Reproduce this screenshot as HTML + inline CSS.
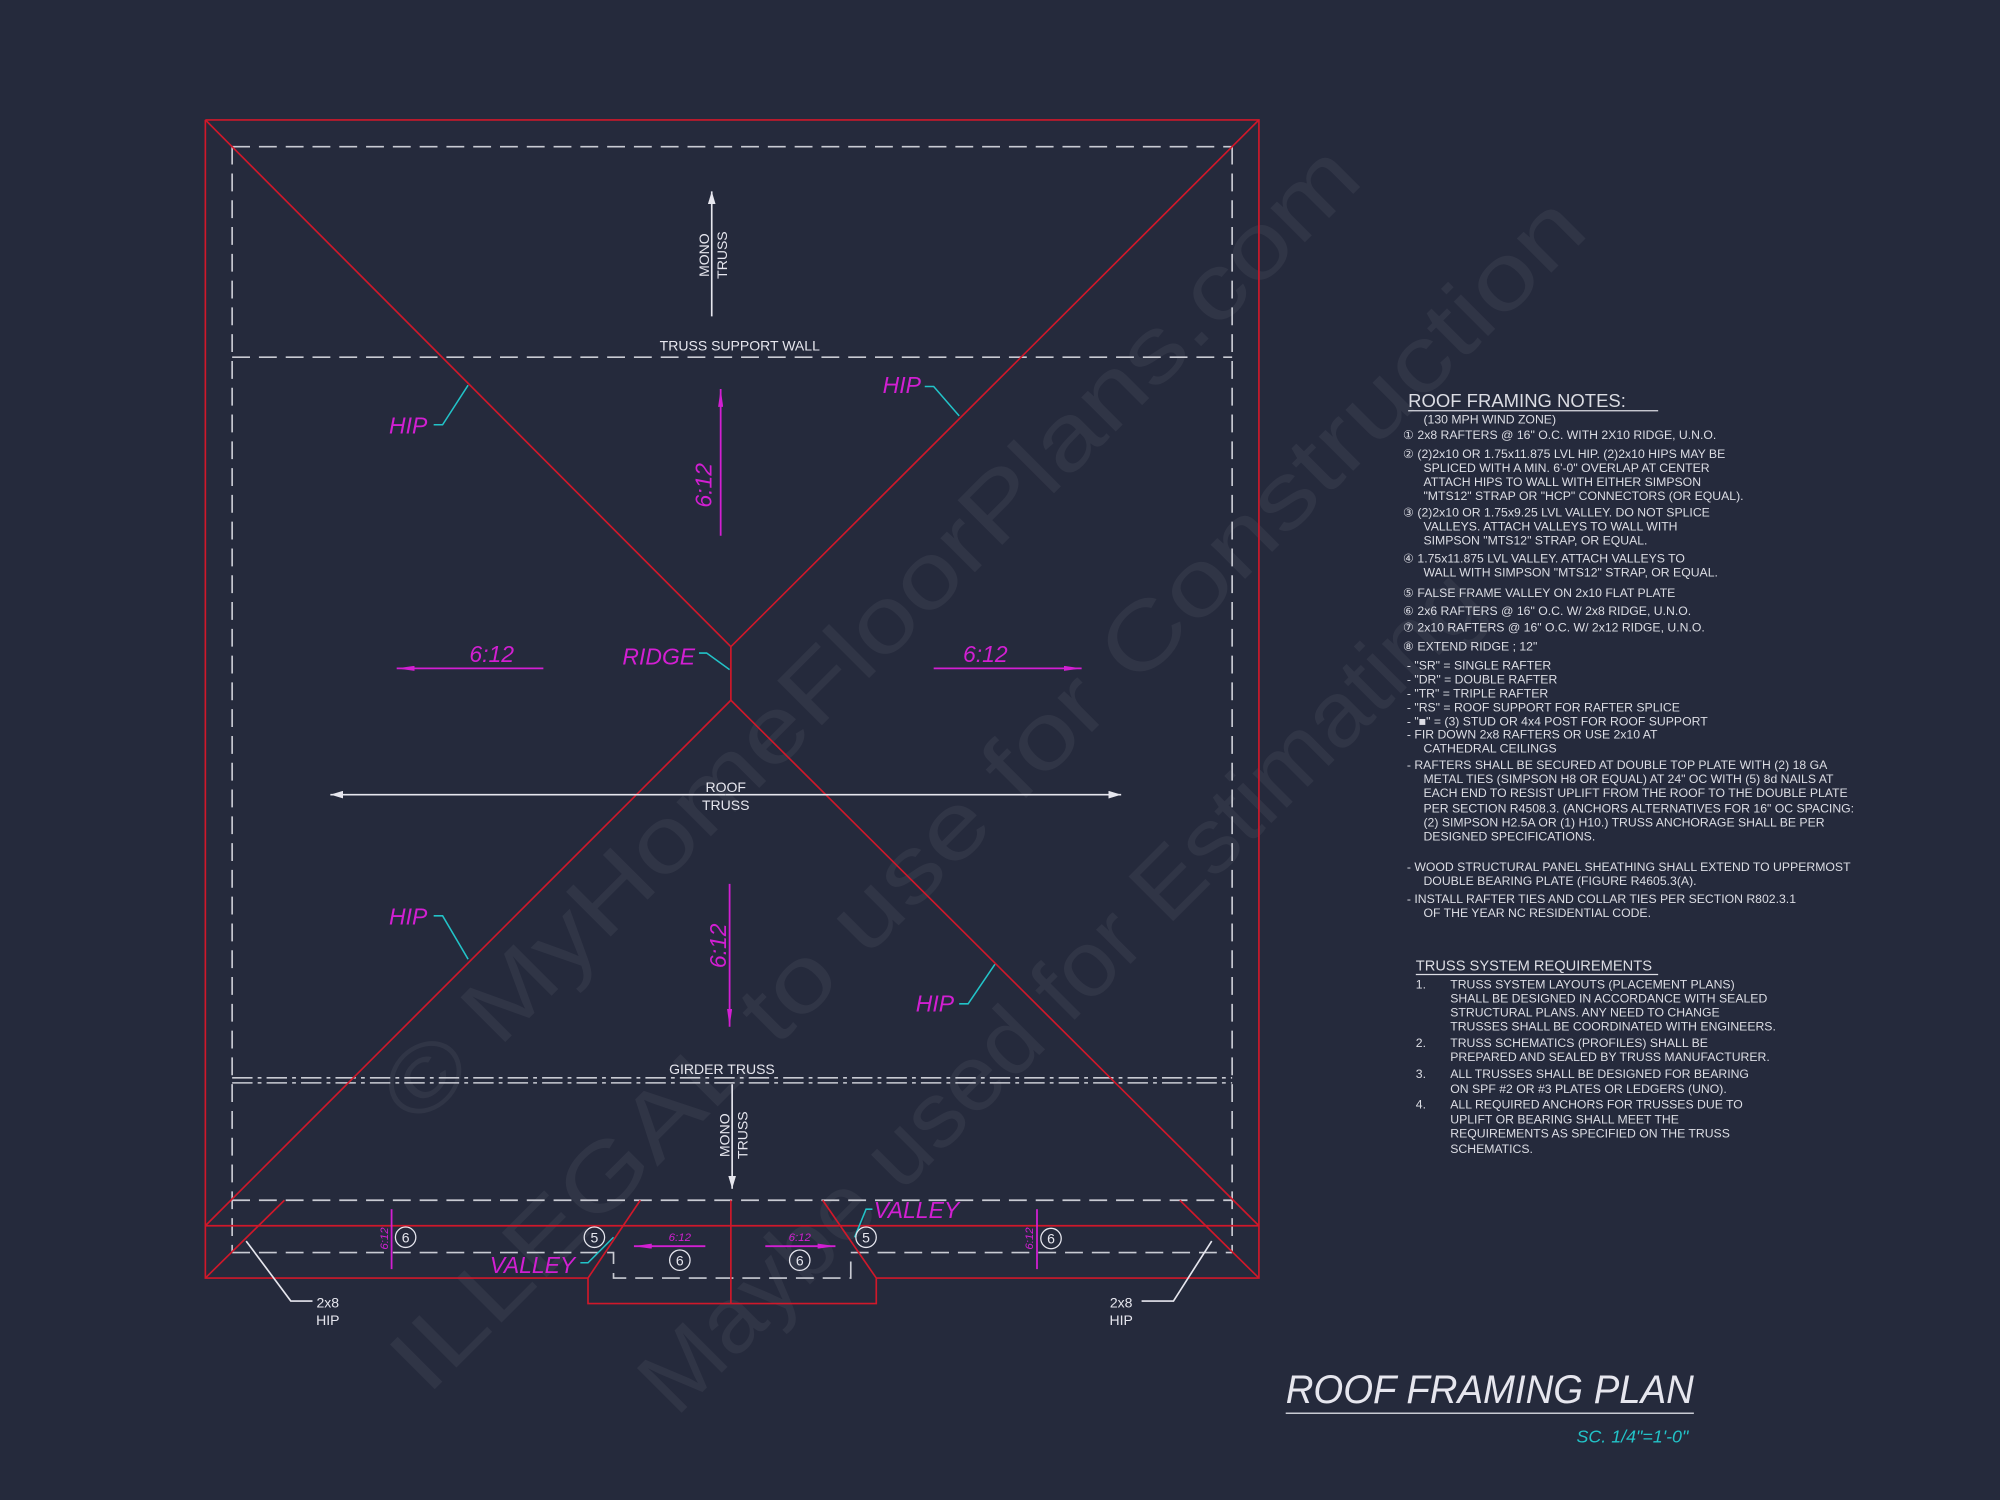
<!DOCTYPE html>
<html><head><meta charset="utf-8"><style>
html,body{margin:0;padding:0;background:#252a3c;}
svg{display:block}
text{font-family:"Liberation Sans",sans-serif;}
</style></head><body>
<svg width="2000" height="1500" viewBox="0 0 1568 1176" xmlns="http://www.w3.org/2000/svg">
<rect width="1568" height="1176" fill="#252a3c"/>
<defs>
<marker id="aw" viewBox="0 0 10 6" refX="10" refY="3" markerWidth="10" markerHeight="6" orient="auto" markerUnits="userSpaceOnUse"><path d="M0,0 L10,3 L0,6 z" fill="#e6e6ee"/></marker>
<marker id="am" viewBox="0 0 14 4" refX="14" refY="2" markerWidth="14" markerHeight="4" orient="auto" markerUnits="userSpaceOnUse"><path d="M0,0 L14,2 L0,4 z" fill="#d21fd2"/></marker>
</defs>
<!-- watermark -->
<g fill="#ffffff" fill-opacity="0.055" font-family="Liberation Serif, serif" font-size="72">
<text transform="translate(328,885) rotate(-45)" textLength="1050" lengthAdjust="spacingAndGlyphs">© MyHomeFloorPlans.com</text>
<text transform="translate(335,1095) rotate(-45)" textLength="1290" lengthAdjust="spacingAndGlyphs">ILLEGAL to use for Construction</text>
<text transform="translate(530,1112) rotate(-45)" textLength="900" lengthAdjust="spacingAndGlyphs">Maybe used for Estimating</text>
</g>
<!-- dashed inner -->
<g stroke="#c9cbd3" stroke-width="1.3" fill="none" stroke-dasharray="14,7">
<line x1="182" y1="115" x2="966" y2="115"/>
<line x1="182" y1="115" x2="182" y2="982"/>
<line x1="966" y1="115" x2="966" y2="982"/>
<line x1="182" y1="280" x2="966" y2="280"/>
<line x1="182" y1="941" x2="966" y2="941"/>
<polyline points="182,982 481,982 481,1002 667,1002 667,982 966,982"/>
</g>
<g stroke="#c9cbd3" stroke-width="1.2" fill="none" stroke-dasharray="16,4,3,4">
<line x1="182" y1="845" x2="966" y2="845"/>
<line x1="182" y1="849" x2="966" y2="849"/>
</g>
<!-- red framing -->
<g stroke="#d0182a" stroke-width="1.3" fill="none">
<polyline points="161,94 987,94 987,1002 687,1002 687,1022 461,1022 461,1002 161,1002 161,94"/>
<line x1="161" y1="961" x2="987" y2="961"/>
<line x1="161" y1="94" x2="573" y2="507"/>
<line x1="987" y1="94" x2="573" y2="507"/>
<line x1="573" y1="507" x2="573" y2="549"/>
<line x1="573" y1="549" x2="161" y2="961"/>
<line x1="573" y1="549" x2="987" y2="961"/>
<line x1="161" y1="1002" x2="223" y2="941"/>
<line x1="987" y1="1002" x2="925" y2="941"/>
<line x1="461" y1="1002" x2="502" y2="941"/>
<line x1="687" y1="1002" x2="645" y2="941"/>
<line x1="573" y1="941" x2="573" y2="1022"/>
</g>
<!-- white arrows -->
<g stroke="#e6e6ee" stroke-width="1.3" fill="none">
<line x1="558" y1="248" x2="558" y2="150" marker-end="url(#aw)"/>
<line x1="574" y1="850" x2="574" y2="932" marker-end="url(#aw)"/>
<line x1="569" y1="623" x2="879" y2="623" marker-end="url(#aw)"/>
<line x1="569" y1="623" x2="259" y2="623" marker-end="url(#aw)"/>
<polyline points="193,973 228,1020 245,1020"/>
<polyline points="950,973 920,1020 895,1020"/>
</g>
<g fill="#e6e6ee" font-size="11" text-anchor="middle">
<text transform="translate(556,200) rotate(-90)">MONO</text>
<text transform="translate(570,200) rotate(-90)">TRUSS</text>
<text transform="translate(572,890) rotate(-90)">MONO</text>
<text transform="translate(586,890) rotate(-90)">TRUSS</text>
<text x="580" y="275">TRUSS SUPPORT WALL</text>
<text x="569" y="621">ROOF</text>
<text x="569" y="635">TRUSS</text>
<text x="566" y="842">GIRDER TRUSS</text>
<text x="257" y="1025">2x8</text>
<text x="257" y="1039">HIP</text>
<text x="879" y="1025">2x8</text>
<text x="879" y="1039">HIP</text>
</g>
<!-- magenta dims -->
<g stroke="#d21fd2" stroke-width="1.4" fill="none">
<line x1="565" y1="420" x2="565" y2="305" marker-end="url(#am)"/>
<line x1="426" y1="524" x2="311" y2="524" marker-end="url(#am)"/>
<line x1="732" y1="524" x2="848" y2="524" marker-end="url(#am)"/>
<line x1="572" y1="693" x2="572" y2="805" marker-end="url(#am)"/>
<line x1="307" y1="948" x2="307" y2="995"/>
<line x1="813" y1="948" x2="813" y2="995"/>
<line x1="553" y1="977" x2="497" y2="977" marker-end="url(#am)"/>
<line x1="600" y1="977" x2="655" y2="977" marker-end="url(#am)"/>
</g>
<g fill="#d21fd2" font-size="18" font-style="italic">
<text x="305" y="340">HIP</text>
<text x="692" y="308">HIP</text>
<text x="305" y="725">HIP</text>
<text x="718" y="793">HIP</text>
<text x="488" y="521">RIDGE</text>
<text x="368" y="519">6:12</text>
<text x="755" y="519">6:12</text>
<text transform="translate(558,398) rotate(-90)">6:12</text>
<text transform="translate(569,759) rotate(-90)">6:12</text>
<text x="384" y="998">VALLEY</text>
<text x="685" y="955">VALLEY</text>
</g>
<g fill="#d21fd2" font-size="9" font-style="italic" text-anchor="middle">
<text x="533" y="973">6:12</text>
<text x="627" y="973">6:12</text>
<text transform="translate(304,971) rotate(-90)">6:12</text>
<text transform="translate(810,971) rotate(-90)">6:12</text>
</g>
<!-- cyan leaders -->
<g stroke="#22c3c8" stroke-width="1.2" fill="none">
<polyline points="340,333 347,333 367,302"/>
<polyline points="725,303 732,303 752,326"/>
<polyline points="548,512 554,512 572,525"/>
<polyline points="340,718 347,718 367,752"/>
<polyline points="752,787 759,787 780,756"/>
<polyline points="455,990 461,990 481,970"/>
<polyline points="684,948 679,948 670,970"/>
</g>
<!-- circles -->
<g stroke="#e6e6ee" stroke-width="1" fill="none">
<circle cx="318" cy="970" r="8"/><circle cx="466" cy="970" r="8"/>
<circle cx="533" cy="988" r="8"/><circle cx="627" cy="988" r="8"/>
<circle cx="679" cy="970" r="8"/><circle cx="824" cy="971" r="8"/>
</g>
<g fill="#e6e6ee" font-size="11" text-anchor="middle">
<text x="318" y="974">6</text><text x="466" y="974">5</text>
<text x="533" y="992">6</text><text x="627" y="992">6</text>
<text x="679" y="974">5</text><text x="824" y="975">6</text>
</g>
<!-- notes -->
<g fill="#dcdde4" font-size="9.6">
<text x="1104" y="319" font-size="14.5">ROOF FRAMING NOTES:</text>
<line x1="1104" y1="322" x2="1300" y2="322" stroke="#dcdde4" stroke-width="1"/>
<text x="1116" y="332">(130 MPH WIND ZONE)</text>
<text x="1100" y="344">① 2x8 RAFTERS @ 16" O.C. WITH 2X10 RIDGE, U.N.O.</text>
<text x="1100" y="359">② (2)2x10 OR 1.75x11.875 LVL HIP.  (2)2x10 HIPS MAY BE</text>
<text x="1116" y="370">SPLICED WITH A MIN. 6'-0" OVERLAP AT CENTER</text>
<text x="1116" y="381">ATTACH HIPS TO WALL WITH EITHER SIMPSON</text>
<text x="1116" y="392">"MTS12" STRAP OR "HCP" CONNECTORS (OR EQUAL).</text>
<text x="1100" y="405">③ (2)2x10 OR 1.75x9.25 LVL VALLEY.  DO NOT SPLICE</text>
<text x="1116" y="416">VALLEYS.  ATTACH VALLEYS TO WALL WITH</text>
<text x="1116" y="427">SIMPSON "MTS12" STRAP, OR EQUAL.</text>
<text x="1100" y="441">④ 1.75x11.875 LVL VALLEY.  ATTACH VALLEYS TO</text>
<text x="1116" y="452">WALL WITH SIMPSON "MTS12" STRAP, OR EQUAL.</text>
<text x="1100" y="468">⑤ FALSE FRAME VALLEY ON 2x10 FLAT PLATE</text>
<text x="1100" y="482">⑥ 2x6 RAFTERS @ 16" O.C. W/ 2x8 RIDGE, U.N.O.</text>
<text x="1100" y="495">⑦ 2x10 RAFTERS @ 16" O.C. W/ 2x12 RIDGE, U.N.O.</text>
<text x="1100" y="510">⑧ EXTEND RIDGE ; 12"</text>
<text x="1103" y="525">-  "SR" = SINGLE RAFTER</text>
<text x="1103" y="536">-  "DR" = DOUBLE RAFTER</text>
<text x="1103" y="547">-  "TR" = TRIPLE RAFTER</text>
<text x="1103" y="558">-  "RS" = ROOF SUPPORT FOR RAFTER SPLICE</text>
<text x="1103" y="569">-  "■"  = (3) STUD OR 4x4 POST FOR ROOF SUPPORT</text>
<text x="1103" y="579">-  FIR DOWN 2x8 RAFTERS OR USE 2x10 AT</text>
<text x="1116" y="590">CATHEDRAL CEILINGS</text>
<text x="1103" y="603">-  RAFTERS SHALL BE SECURED AT DOUBLE TOP PLATE WITH (2) 18 GA</text>
<text x="1116" y="614">METAL TIES (SIMPSON H8 OR EQUAL) AT 24" OC WITH (5) 8d NAILS AT</text>
<text x="1116" y="625">EACH END TO RESIST UPLIFT FROM THE ROOF TO THE DOUBLE PLATE</text>
<text x="1116" y="637">PER SECTION R4508.3. (ANCHORS ALTERNATIVES FOR 16" OC SPACING:</text>
<text x="1116" y="648">(2) SIMPSON H2.5A OR (1) H10.) TRUSS ANCHORAGE SHALL BE PER</text>
<text x="1116" y="659">DESIGNED SPECIFICATIONS.</text>
<text x="1103" y="683">-  WOOD STRUCTURAL PANEL SHEATHING SHALL EXTEND TO UPPERMOST</text>
<text x="1116" y="694">DOUBLE BEARING PLATE (FIGURE R4605.3(A).</text>
<text x="1103" y="708">-  INSTALL RAFTER TIES AND COLLAR TIES PER SECTION R802.3.1</text>
<text x="1116" y="719">OF THE YEAR NC RESIDENTIAL CODE.</text>
<text x="1110" y="761" font-size="11.5">TRUSS SYSTEM REQUIREMENTS</text>
<line x1="1110" y1="764" x2="1300" y2="764" stroke="#dcdde4" stroke-width="1"/>
<text x="1110" y="775">1.</text><text x="1137" y="775">TRUSS SYSTEM LAYOUTS (PLACEMENT PLANS)</text>
<text x="1137" y="786">SHALL BE DESIGNED IN ACCORDANCE WITH SEALED</text>
<text x="1137" y="797">STRUCTURAL PLANS. ANY NEED TO CHANGE</text>
<text x="1137" y="808">TRUSSES SHALL BE COORDINATED WITH ENGINEERS.</text>
<text x="1110" y="821">2.</text><text x="1137" y="821">TRUSS SCHEMATICS (PROFILES) SHALL BE</text>
<text x="1137" y="832">PREPARED AND SEALED BY TRUSS MANUFACTURER.</text>
<text x="1110" y="845">3.</text><text x="1137" y="845">ALL TRUSSES SHALL BE DESIGNED FOR BEARING</text>
<text x="1137" y="857">ON SPF #2 OR #3 PLATES OR LEDGERS (UNO).</text>
<text x="1110" y="869">4.</text><text x="1137" y="869">ALL REQUIRED ANCHORS FOR TRUSSES DUE TO</text>
<text x="1137" y="881">UPLIFT OR BEARING SHALL MEET THE</text>
<text x="1137" y="892">REQUIREMENTS AS SPECIFIED ON THE TRUSS</text>
<text x="1137" y="904">SCHEMATICS.</text>
</g>
<text x="1008" y="1100" fill="#e6e6ee" font-size="31" font-style="italic" textLength="320" lengthAdjust="spacingAndGlyphs">ROOF FRAMING PLAN</text>
<line x1="1008" y1="1108" x2="1328" y2="1108" stroke="#c9cbd3" stroke-width="1.2"/>
<text x="1236" y="1131" fill="#22c3c8" font-size="14" font-style="italic">SC. 1/4"=1'-0"</text>
</svg>
</body></html>
